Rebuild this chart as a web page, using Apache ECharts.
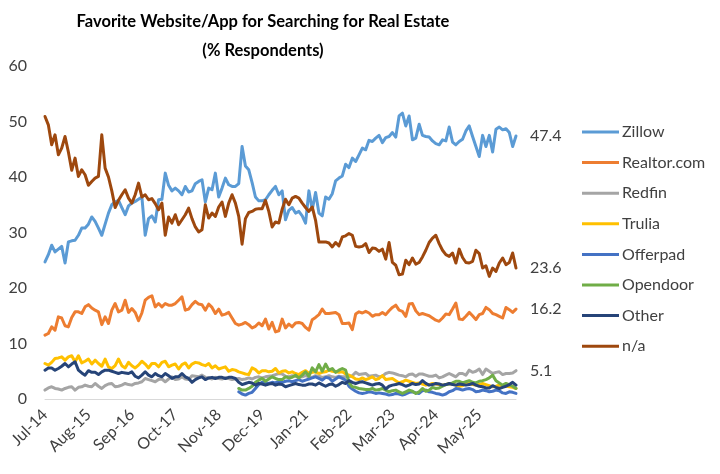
<!DOCTYPE html>
<html>
<head>
<meta charset="utf-8">
<script src="https://cdn.jsdelivr.net/npm/echarts@6/dist/echarts.min.js"></script>
<style>
  html, body { margin: 0; padding: 0; background: #fff; }
  #chart { width: 720px; height: 474px; }
</style>
</head>
<body>
<div id="chart"></div>
<script>
// monthly categories, Jul-14 onwards
const monthNames = ['Jan', 'Feb', 'Mar', 'Apr', 'May', 'Jun', 'Jul', 'Aug', 'Sep', 'Oct', 'Nov', 'Dec']
const startYear = 2014
const startMonth = 6 // Jul
const monthCount = 142
const months = []
for (let i = 0; i < monthCount; i++) {
  const m = (startMonth + i) % 12
  const y = startYear + Math.floor((startMonth + i) / 12)
  months.push(monthNames[m] + '-' + String(y).slice(2))
}

const zillow = [
  24.7, 26, 27.7, 26.5, 27, 27.5, 24.5, 28.3, 28.5, 28.6,
  29.5, 30.8, 30.8, 31.5, 32.8, 32, 30.8, 29.5, 31.5, 33.5,
  35, 35.5, 35.8, 34.5, 33.2, 34.8, 35.3, 35.6, 36, 36.4,
  29.5, 32.5, 33, 31.9, 35.9, 36, 40.7, 38.5, 37.5, 38,
  37.5, 36.8, 38.3, 37.3, 37.5, 38.8, 39.2, 39.5, 35.5, 38,
  37.7, 40.7, 36.4, 38, 39.8, 38.6, 38.3, 38.3, 38.8, 45.5,
  42, 41.3, 39, 36.4, 35.7, 35.7, 35.9, 36.8, 37.6, 38.3,
  36.8, 37.5, 32.3, 34, 34.5, 33.5, 33.8, 33, 31.7, 37.5,
  34.1, 37.2, 33.5, 33, 36.4, 36, 37, 39.3, 39.8, 40.2,
  42.3, 41.7, 43.4, 42.8, 44, 45.2, 44.9, 46.6, 46.4, 47,
  47.5, 46.2, 47.1, 47.3, 48, 47.2, 51, 51.5, 49.2, 51,
  46.7, 47, 49.5, 47.5, 47.3, 47.2, 46.5, 46, 45.8, 46.7,
  46.5, 49, 46.3, 45.8, 46.4, 46.8, 48.3, 49.2, 47.3, 45.5,
  43.7, 47.5, 45.5, 47.5, 44.5, 48.6, 49, 48.5, 48.7, 48,
  45.5, 47.4
]

const realtor = [
  11.5, 11.8, 13, 12.4, 14.8, 14.6, 13.2, 13, 14.7, 15.7,
  15.7, 15.4, 16.6, 17, 16.4, 16, 15.7, 13.4, 14.8, 13.6,
  16, 17.2, 15.7, 16, 17.8, 15.6, 16.3, 15.6, 14.1, 15.5,
  17.8, 18.3, 18.6, 16.6, 17.2, 16.6, 17.2, 16.9, 16.9, 17.2,
  17.8, 18.4, 16, 16.2, 17, 17.6, 17.1, 17, 16, 17.1,
  16.5, 15.4, 16.2, 15.1, 15.3, 15.6, 14.6, 13.6, 13.3, 13.5,
  13.8, 13.4, 12.8, 13.1, 13.7, 13.2, 14.4, 12.6, 13.8, 12.1,
  12.3, 14.4, 12.8, 13.5, 13, 13.7, 13.8, 13.6, 12.9, 12.4,
  14.3, 14.7, 15.2, 16.2, 15.4, 15.4, 15.5, 15.6, 15.2, 13.6,
  13.6, 13.7, 12.5, 15.3, 15.7, 15.5, 15.8, 15.5, 14.9, 15.2,
  15.2, 15.6, 15.2, 15.9, 16.5, 16.9, 16, 15.8, 14.9, 17.1,
  17.2, 15.9, 15.2, 15.4, 15.2, 15, 14.6, 14.2, 14, 14.6,
  15.3, 15.2, 16.2, 17.3, 14.4, 14.3, 14.9, 15.6, 15, 14.3,
  15.2, 15.4, 16.5, 16.1, 15.4, 15.2, 14.9, 14.6, 16.5, 16.1,
  15.6, 16.2
]

const redfin = [
  1.6, 2.0, 2.2, 1.9, 1.8, 1.6, 1.9, 2.1, 2.2, 1.6,
  2.1, 2.2, 2.5, 2.3, 2.2, 2.8, 2.3, 1.9, 2.4, 2.7,
  2.8, 2.2, 2.3, 2.5, 2.8, 2.6, 2.5, 2.8, 2.9, 3.1,
  3.7, 3.5, 3.3, 3.1, 3.5, 3.6, 3.1, 3.6, 4.0, 3.5,
  3.6, 4.0, 3.6, 3.5, 4.2, 4.1, 4.0, 4.3, 3.9, 3.8,
  3.6, 3.9, 3.7, 3.6, 3.8, 3.7, 3.5, 3.6, 3.7, 3.5,
  3.6, 3.8, 3.6, 3.9, 4.0, 3.8, 4.0, 4.1, 4.2, 4.4,
  4.6, 4.5, 4.1, 4.0, 4.2, 4.1, 3.9, 4.0, 4.2, 4.0,
  3.9, 4.2, 4.1, 3.9, 4.0, 4.2, 4.0, 3.9, 4.1, 4.0,
  4.0, 4.0, 4.2, 4.8, 4.4, 4.5, 4.6, 4.1, 4.2, 4.3,
  4.0, 4.1, 4.6, 4.8, 4.7, 4.5, 4.3, 4.2, 4.0, 4.4,
  4.5, 4.1, 4.5, 4.5, 4.3, 4.1, 4.1, 4.3, 3.8, 4.0,
  4.3, 4.6, 4.3, 4.0, 4.6, 4.6, 4.3, 5.2, 4.8, 5.0,
  5.4, 4.4, 5.4, 5.0, 4.6, 4.8, 4.9, 4.4, 4.6, 4.6,
  4.7, 5.1
]

const trulia = [
  6.4, 6.1, 6.6, 7.3, 7.4, 7.6, 7.0, 7.6, 7.8, 6.7,
  7.8, 6.5, 6.8, 7.2, 6.3, 7.0, 6.4, 5.9, 7.2, 5.8,
  5.5, 6.0, 7.2, 6.0, 5.6, 6.6, 6.0, 5.6, 6.1, 6.8,
  6.3, 5.6, 6.4, 6.4, 5.8, 6.6, 6.8, 5.8, 6.1, 6.3,
  5.4, 6.2, 6.5, 5.6, 6.3, 6.6, 6.5, 6.2, 6.0, 6.4,
  5.6, 6.0, 5.4, 5.6, 5.8, 5.0, 5.3, 5.2, 4.9, 4.7,
  4.5, 4.4, 5.6, 5.3, 4.7, 5.1, 5.1, 4.9, 5.0, 5.5,
  4.7, 5.0, 5.1, 4.7, 4.9, 4.6, 4.4, 4.8, 5.1, 4.6,
  4.8, 4.9, 4.6, 4.8, 4.9, 5.2, 5.0, 4.9, 4.8, 4.9,
  4.5, 4.3, 4.0, 3.6, 3.5, 3.8, 3.5, 3.7, 4.0, 3.5,
  3.7, 4.2, 3.5, 3.6, 3.7, 3.3, 2.9, 3.1, 3.4, 3.2,
  3.0, 2.8, 2.9, 2.7, 2.5, 2.6, 2.8, 2.7, 2.6, 2.5,
  2.6, 2.8, 2.7, 2.5, 2.3, 2.4, 2.7, 2.8, 2.6, 2.5,
  2.6, 2.8, 2.6, 2.4, 2.2, 2.3, 2.5, 2.4, 2.3, 2.2,
  2.1, 1.9
]

// Offerpad and Opendoor start later (month index 58)
const ibuyerStart = 58
const offerpad = [
  1.3, 0.9, 0.7, 1.0, 1.2, 1.9, 2.6, 3.0, 2.9, 2.8,
  3.0, 2.9, 3.2, 3.0, 3.2, 3.3, 3.1, 3.3, 3.5, 3.2,
  3.4, 3.6, 3.8, 4.0, 3.7, 3.4, 3.9, 3.8, 3.2, 3.6,
  4.0, 3.7, 3.4, 2.3, 1.8, 1.4, 1.1, 1.0, 1.1, 1.3,
  1.2, 1.0, 1.1, 1.0, 0.9, 0.7, 0.8, 1.0, 0.9, 0.7,
  0.9, 1.2, 1.3, 1.1, 1.0, 1.5, 1.6, 1.3, 1.2, 1.0,
  0.9, 0.7, 0.9, 1.3, 1.5, 1.9, 1.8, 1.6, 1.8, 1.9,
  1.7, 1.3, 1.4, 1.6, 1.5, 1.3, 1.4, 1.6, 1.5, 1.1,
  1.0, 1.3, 1.2, 1.0
]
const opendoor = [
  1.9, 1.6, 1.6, 1.9, 2.3, 3.0, 3.4, 3.7, 3.2, 3.6,
  4.0, 3.7, 3.5, 3.5, 4.0, 3.8, 3.9, 4.3, 3.8, 4.3,
  4.9, 4.1, 5.6, 4.9, 6.2, 5.0, 6.3, 5.2, 5.5, 4.8,
  5.2, 5.5, 5.2, 3.0, 2.2, 2.1, 1.9, 1.8, 1.7, 1.7,
  1.9, 1.6, 1.7, 1.9, 1.6, 1.3, 1.5, 1.6, 1.3, 1.0,
  1.3, 1.6, 1.4, 1.0, 1.3, 1.9, 1.4, 1.6, 2.1, 1.9,
  2.0, 2.3, 2.6, 2.7, 2.9, 3.2, 3.2, 2.9, 3.1, 3.3,
  3.0, 2.9, 3.2, 3.3, 3.5, 3.8, 4.3, 3.3, 2.9, 2.5,
  2.8, 2.6, 2.3, 1.9
]

const other = [
  5.2, 5.6, 5.6, 5.2, 5.5, 5.9, 6.4, 5.8, 6.3, 6.7,
  5.2, 4.7, 4.3, 5.1, 4.8, 4.8, 4.4, 4.9, 5.2, 5.2,
  5.0, 4.8, 4.6, 4.8, 4.7, 4.6, 4.9, 4.1, 3.8, 4.3,
  4.9, 4.3, 4.0, 4.6, 4.2, 4.0, 4.6, 4.2, 3.7, 4.0,
  4.0, 4.6, 4.0, 3.7, 3.0, 3.5, 3.8, 4.0, 3.5, 3.8,
  3.9, 3.7, 3.9, 3.9, 3.7, 3.9, 3.9, 3.7, 3.0, 2.6,
  2.8, 3.0, 2.9, 2.5, 2.8, 2.7, 2.5, 2.7, 2.8, 2.5,
  2.7, 2.6, 2.2, 2.4, 2.6, 2.8, 2.6, 2.5, 2.5, 2.7,
  2.7, 2.5, 2.9, 2.6, 2.3, 2.6, 2.7, 2.3, 2.6, 3.0,
  2.8, 3.3, 3.0, 2.8, 3.0, 3.1, 2.9, 2.7, 2.5, 2.7,
  2.8, 2.5, 1.8, 2.3, 2.5, 2.6, 2.8, 2.6, 2.3, 2.5,
  2.8, 2.6, 2.7, 3.3, 2.8, 2.5, 2.6, 2.8, 2.7, 2.5,
  2.6, 2.8, 2.6, 2.5, 2.7, 2.6, 2.5, 2.6, 2.8, 2.5,
  2.3, 2.2, 2.0, 2.0, 2.4, 2.1, 1.9, 2.1, 2.3, 2.6,
  3.0, 2.5
]

const notApplicable = [
  50.9, 49.4, 45.8, 47.6, 44, 45.2, 47.3, 44.5, 41.2, 43.4,
  40.1, 41.3, 40.4, 38.5, 39.2, 39.8, 40.1, 47.6, 41.6, 40,
  37.5, 34.5, 35.8, 36.8, 37.7, 36.2, 35.3, 36.8, 38.9, 36.4,
  36.8, 35.9, 36.1, 35.2, 34.1, 35.3, 29.5, 32.8, 31.7, 33.2,
  31.4, 32.3, 33.2, 34.4, 32.5, 31, 30.1, 30.5, 35, 32.6,
  33.5, 32.9, 34.6, 35.5, 32.9, 35.3, 36.8, 35.3, 32.9, 27.9,
  32.5, 33.6, 33.8, 34.2, 34.3, 34.3, 35.8, 33.8, 31, 31.9,
  31.7, 34.2, 36, 35, 36.2, 36.5, 36.2, 35.3, 34.5, 33.8,
  34.6, 32.2, 28.3, 28.3, 28.3, 28.1, 27.4, 28.2, 27.6, 29.2,
  29.4, 29.8, 29.5, 27.5, 27.4, 27.5, 28, 26.4, 27.2, 27.1,
  26.6, 27, 25.2, 28.2, 24.6, 24.1, 22.4, 22.5, 25, 24.2,
  25.4, 24.3, 24.6, 25.6, 26.8, 28.2, 29, 29.5, 28, 26.8,
  26, 25.7, 26.3, 24.5, 27, 25.5, 24.6, 24.5, 24.8, 26.8,
  26.2, 23.6, 24, 22.1, 23.6, 23, 24.5, 25.4, 24.2, 24.6,
  26.3, 23.6
]

const yTicks = { min: 0, max: 60, interval: 10 }
const textColor = '#404040'
const font = 'Lato, "Liberation Sans", sans-serif'

function lateStart(values) {
  return new Array(ibuyerStart).fill(null).concat(values)
}

function makeSeries(name, data, color, withEndLabel) {
  return {
    name: name,
    type: 'line',
    data: data,
    symbol: 'none',
    smooth: false,
    connectNulls: false,
    lineStyle: { width: 3, color: color, cap: 'round', join: 'round' },
    itemStyle: { color: color },
    emphasis: { disabled: true },
    endLabel: {
      show: withEndLabel,
      formatter: (p) => p.value,
      distance: 14,
      color: textColor,
      fontSize: 16,
      fontFamily: font
    }
  }
}

const chart = echarts.init(document.getElementById('chart'))

chart.setOption({
  animation: false,
  backgroundColor: '#fff',
  title: {
    text: 'Favorite Website/App for Searching for Real Estate\n(% Respondents)',
    left: 258,
    top: 2,
    textAlign: 'center',
    textStyle: {
      fontFamily: font,
      fontWeight: 'bold',
      fontSize: 16.5,
      lineHeight: 29,
      color: '#000'
    }
  },
  legend: {
    orient: 'vertical',
    left: 582,
    top: 124,
    padding: 0,
    itemWidth: 37,
    itemHeight: 3,
    itemGap: 14.6,
    icon: 'path://M0,0H37V3H0Z',
    textStyle: { fontFamily: font, fontSize: 16, color: textColor, padding: [0, 0, 0, -2] },
    data: ['Zillow', 'Realtor.com', 'Redfin', 'Trulia', 'Offerpad', 'Opendoor', 'Other', 'n/a']
  },
  grid: { left: 45, top: 66, width: 471, height: 333 },
  xAxis: {
    type: 'category',
    data: months,
    boundaryGap: false,
    axisLine: { show: true, lineStyle: { color: '#d9d9d9', width: 1 } },
    axisTick: { show: false },
    axisLabel: {
      interval: 12,
      rotate: 45,
      fontSize: 16,
      fontFamily: font,
      color: textColor,
      margin: 13
    }
  },
  yAxis: {
    type: 'value',
    min: yTicks.min,
    max: yTicks.max,
    interval: yTicks.interval,
    splitLine: { show: false },
    axisLine: { show: false },
    axisTick: { show: false },
    axisLabel: { fontSize: 16, fontFamily: font, color: textColor, margin: 18 }
  },
  series: [
    makeSeries('Zillow', zillow, '#5B9BD5', true),
    makeSeries('Realtor.com', realtor, '#ED7D31', true),
    makeSeries('Redfin', redfin, '#A5A5A5', true),
    makeSeries('Trulia', trulia, '#FFC000', false),
    makeSeries('Offerpad', lateStart(offerpad), '#4472C4', false),
    makeSeries('Opendoor', lateStart(opendoor), '#70AD47', false),
    makeSeries('Other', other, '#264478', false),
    makeSeries('n/a', notApplicable, '#9E480E', true)
  ]
})
</script>
</body>
</html>
